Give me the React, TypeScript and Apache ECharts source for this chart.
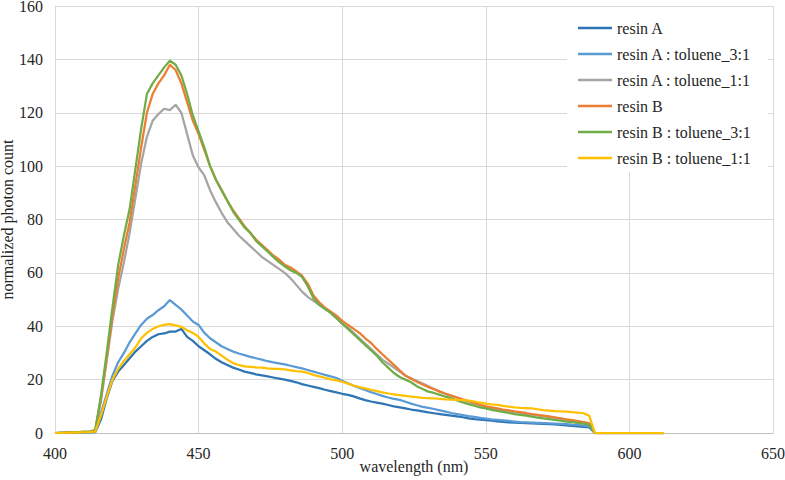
import React, { useEffect, useRef } from "react";
import * as echarts from "echarts";

const WAVELENGTHS = [
  400,
  412, 414, 416, 418, 420, 422, 424, 426, 428, 430,
  432, 434, 436, 438, 440, 442, 444, 446, 448, 450,
  452, 454, 456, 458, 460, 462, 464, 466, 468, 470,
  472, 474, 476, 478, 480, 482, 484, 486, 488, 490,
  492, 494, 496, 498, 500, 502, 504, 506, 508, 510,
  512, 514, 516, 518, 520, 522, 524, 526, 528, 530,
  532, 534, 536, 538, 540, 542, 544, 546, 548, 550,
  552, 554, 556, 558, 560, 562, 564, 566, 568, 570,
  572, 574, 576, 578, 580, 582, 584, 586, 588,
  612,
];

const RESIN_A = [
  0,
  0.2, 0.3, 5, 13, 19.5, 23, 25.5, 28, 30.5, 32.5,
  34.5, 36, 37, 37.3, 38, 38, 39, 36, 34.5, 32.5,
  31, 29.5, 27.8, 26.5, 25.5, 24.5, 23.8, 23, 22.5, 22,
  21.6, 21.2, 20.8, 20.4, 20, 19.5, 19, 18.3, 17.8, 17.3,
  16.8, 16.2, 15.7, 15.2, 14.7, 14.3, 13.7, 13, 12.3, 11.8,
  11.4, 11, 10.5, 10, 9.6, 9.2, 8.8, 8.5, 8.1, 7.7,
  7.4, 7.1, 6.8, 6.5, 6.2, 5.9, 5.5, 5.2, 5, 4.8,
  4.6, 4.4, 4.2, 4, 3.9, 3.8, 3.7, 3.6, 3.5, 3.4,
  3.3, 3.2, 3, 2.9, 2.7, 2.5, 2.3, 2.1, 0,
  0,
];

const RESIN_A_T31 = [
  0,
  0.3, 0.5, 7.5, 14.5, 21.5, 26.5, 30, 34, 37.3, 40.5,
  42.8, 44.2, 46, 47.5, 49.8, 48, 46.3, 44, 41.8, 40.5,
  37.5, 35.5, 34, 32.5, 31.5, 30.5, 29.8, 29.2, 28.5, 28,
  27.5, 26.9, 26.5, 26.1, 25.7, 25.2, 24.7, 24.2, 23.6, 23,
  22.4, 21.8, 21.2, 20.6, 19.6, 18.6, 17.7, 16.9, 16.1, 15.3,
  14.6, 13.9, 13.3, 12.8, 12.4, 11.7, 11, 10.4, 9.8, 9.4,
  9, 8.5, 8, 7.5, 7.1, 6.7, 6.3, 6, 5.7, 5.4,
  5.1, 4.9, 4.7, 4.5, 4.3, 4.1, 4, 3.9, 3.8, 3.7,
  3.6, 3.5, 3.4, 3.3, 3.1, 3, 2.8, 2.5, 0,
  0,
];

const RESIN_A_T11 = [
  0,
  0.5, 1, 12, 27, 42, 54, 64, 75, 88, 101,
  111, 117, 119.5, 121.5, 121, 123, 120, 112, 104, 99.5,
  96.5, 91, 86.5, 82.5, 79, 76.5, 74, 72, 70, 68,
  66, 64.5, 63, 61.5, 60, 58, 55.5, 53, 51, 49.5,
  48, 46.5, 45, 43, 41, 39.5, 37.5, 35.5, 33.5, 31.5,
  29.5, 27.5, 26, 24.5, 23, 21.5, 20.5, 19.5, 18.5, 17.5,
  16.5, 15.5, 14.6, 13.9, 13.2, 12.4, 11.7, 11, 10.4, 9.8,
  9.3, 8.9, 8.5, 8.1, 7.8, 7.5, 7.2, 6.9, 6.6, 6.3,
  6, 5.7, 5.4, 5, 4.7, 4.4, 4, 3.6, 0,
  0,
];

const RESIN_B = [
  0,
  0.5, 1, 13, 28, 44, 58, 69, 79, 93, 107,
  120, 127, 131, 134, 138, 136, 131, 124, 117, 112,
  106, 100, 95, 91, 87, 83.5, 80.5, 77.5, 75, 72.5,
  70.5, 68.5, 66.5, 65, 63, 62, 60.5, 59, 56, 51.5,
  49, 47, 45.5, 44, 42, 40.5, 39, 37.5, 35.5, 33.8,
  31.5, 29.5, 27.5, 25.5, 23.5, 21.5, 20.3, 19.2, 18.2, 17.2,
  16.4, 15.5, 14.7, 14, 13.3, 12.6, 12, 11.3, 10.6, 10,
  9.6, 9.2, 8.8, 8.5, 8.1, 7.8, 7.5, 7.1, 6.8, 6.5,
  6.2, 5.9, 5.5, 5.1, 4.8, 4.5, 4.1, 3.6, 0,
  0,
];

const RESIN_B_T31 = [
  0,
  0.5, 1, 14, 30, 47, 63, 74, 84, 99, 114,
  127, 131, 134, 137, 139.5, 138, 134, 127, 119, 113,
  107, 100, 95, 91, 87, 83, 80, 77, 75, 72,
  70, 68, 66, 64, 62.5, 61, 60, 58.5, 55, 50.5,
  48, 46.5, 45, 43, 41, 39, 37, 35, 33, 31,
  29, 26.5, 24.5, 22.5, 21, 20, 19, 17.5, 16.5, 15.5,
  15, 14.3, 13.6, 13, 12.2, 11.5, 10.8, 10.2, 9.6, 9.2,
  8.7, 8.3, 7.9, 7.5, 7.1, 6.8, 6.5, 6.1, 5.8, 5.5,
  5.2, 4.9, 4.6, 4.3, 4.1, 3.8, 3.5, 3.1, 0,
  0,
];

const RESIN_B_T11 = [
  0,
  0.3, 0.5, 6.5, 13.5, 20, 24, 27, 29.5, 32, 35.5,
  37.5, 39, 40, 40.5, 40.8, 40.3, 39.8, 38.5, 37.5, 36,
  33.5, 31.5, 30.5, 29, 27.5, 26.2, 25.5, 25, 24.8, 24.6,
  24.5, 24.2, 24, 24, 23.8, 23.5, 23.2, 23, 22.5, 21.8,
  21.2, 20.7, 20.1, 19.7, 19.2, 18.5, 17.8, 17.2, 16.7, 16.2,
  15.7, 15.2, 14.8, 14.5, 14.2, 13.9, 13.6, 13.4, 13.2, 13.1,
  13, 12.8, 12.6, 12.5, 12.4, 12.3, 12.1, 11.8, 11.4, 11,
  10.7, 10.5, 10.2, 9.9, 9.6, 9.4, 9.3, 9.2, 8.9, 8.6,
  8.4, 8.2, 8.1, 8, 7.8, 7.6, 7.4, 6.5, 0,
  0,
];

const SERIES_NAMES = [
  "resin A",
  "resin A : toluene_3:1",
  "resin A : toluene_1:1",
  "resin B",
  "resin B : toluene_3:1",
  "resin B : toluene_1:1",
];
const SERIES_VALUES = [RESIN_A, RESIN_A_T31, RESIN_A_T11, RESIN_B, RESIN_B_T31, RESIN_B_T11];
const COLORS = ["#2E75B6", "#5B9BD5", "#A5A5A5", "#ED7D31", "#70AD47", "#FFC000"];

const FONT = "'Liberation Serif', 'Times New Roman', serif";

export default function App() {
  const ref = useRef<HTMLDivElement>(null);

  useEffect(() => {
    document.body.style.margin = "0";
    if (!ref.current) return;
    const chart = echarts.init(ref.current, undefined, { renderer: "svg" });
    chart.setOption({
      animation: false,
      backgroundColor: "#ffffff",
      textStyle: { fontFamily: FONT },
      grid: {
        left: 55,
        right: 12,
        top: 6,
        bottom: 47,
        containLabel: false,
        outerBoundsMode: "none",
      },
      legend: {
        orient: "vertical",
        left: 567,
        top: 7,
        padding: [13, 16, 6, 11],
        backgroundColor: "#ffffff",
        icon: "rect",
        itemWidth: 34,
        itemHeight: 2.5,
        itemGap: 10,
        textStyle: { fontFamily: FONT, fontSize: 16, color: "#262626", lineHeight: 16 },
        data: SERIES_NAMES,
      },
      xAxis: {
        type: "value",
        min: 400,
        max: 650,
        interval: 50,
        name: "wavelength (nm)",
        nameLocation: "middle",
        nameGap: 25,
        nameMoveOverlap: false,
        nameTextStyle: { fontFamily: FONT, fontSize: 16, color: "#262626" },
        axisLine: { show: true, lineStyle: { color: "#bfbfbf", width: 1 } },
        axisTick: { show: false },
        axisLabel: { fontFamily: FONT, fontSize: 16, color: "#262626", margin: 12 },
        splitLine: { show: true, lineStyle: { color: "#d9d9d9", width: 1 } },
      },
      yAxis: {
        type: "value",
        min: 0,
        max: 160,
        interval: 20,
        name: "normalized photon count",
        nameLocation: "middle",
        nameGap: 40,
        nameRotate: 90,
        nameMoveOverlap: false,
        nameTextStyle: { fontFamily: FONT, fontSize: 16, color: "#262626" },
        axisLine: { show: false },
        axisTick: { show: false },
        axisLabel: { fontFamily: FONT, fontSize: 16, color: "#262626", margin: 12 },
        splitLine: { show: true, lineStyle: { color: "#d9d9d9", width: 1 } },
      },
      series: SERIES_NAMES.map((name, i) => ({
        name,
        type: "line",
        showSymbol: false,
        symbol: "none",
        color: COLORS[i],
        lineStyle: { color: COLORS[i], width: 2.25 },
        data: WAVELENGTHS.map((w, j) => [w, SERIES_VALUES[i][j]]),
      })),
    });
    return () => chart.dispose();
  }, []);

  return <div ref={ref} style={{ width: 785, height: 480 }} />;
}
